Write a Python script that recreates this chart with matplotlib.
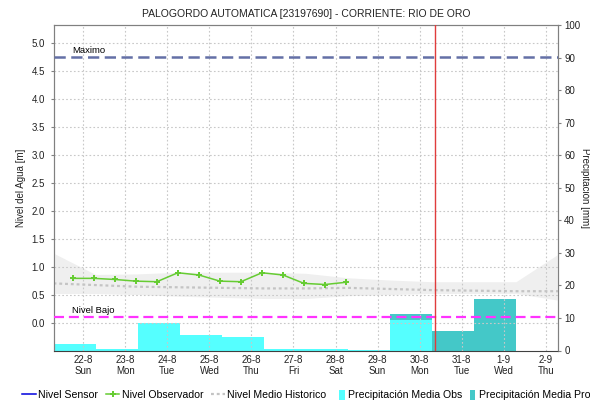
import datetime as dt

import matplotlib
matplotlib.use("Agg")
import matplotlib.pyplot as plt
import matplotlib.dates as mdates
from matplotlib.lines import Line2D
from matplotlib.patches import Patch

plt.rcParams['font.family'] = ['Liberation Sans', 'DejaVu Sans']

TITLE = "PALOGORDO AUTOMATICA [23197690] - CORRIENTE: RIO DE ORO"

# x axis ticks, one per day at midnight
tick_dates = ["2021-08-22", "2021-08-23", "2021-08-24", "2021-08-25", "2021-08-26", "2021-08-27",
              "2021-08-28", "2021-08-29", "2021-08-30", "2021-08-31", "2021-09-01", "2021-09-02"]
tick_days = ["22-8", "23-8", "24-8", "25-8", "26-8", "27-8", "28-8", "29-8", "30-8", "31-8", "1-9", "2-9"]
tick_weekdays = ["Sun", "Mon", "Tue", "Wed", "Thu", "Fri", "Sat", "Sun", "Mon", "Tue", "Wed", "Thu"]

# observer readings (06:00 and 18:00)
obs_times = ["2021-08-21 18:00", "2021-08-22 06:00", "2021-08-22 18:00", "2021-08-23 06:00",
             "2021-08-23 18:00", "2021-08-24 06:00", "2021-08-24 18:00", "2021-08-25 06:00",
             "2021-08-25 18:00", "2021-08-26 06:00", "2021-08-26 18:00", "2021-08-27 06:00",
             "2021-08-27 18:00", "2021-08-28 06:00"]
obs_level = [0.79, 0.79, 0.77, 0.74, 0.73, 0.89, 0.85, 0.74, 0.73, 0.89, 0.85, 0.70, 0.68, 0.72]

# historic level per day (07:00)
hist_times = ["2021-08-21 07:00", "2021-08-22 07:00", "2021-08-23 07:00", "2021-08-24 07:00",
              "2021-08-25 07:00", "2021-08-26 07:00", "2021-08-27 07:00", "2021-08-28 07:00",
              "2021-08-29 07:00", "2021-08-30 07:00", "2021-08-31 07:00", "2021-09-01 07:00",
              "2021-09-02 07:00"]
hist_mean = [0.70, 0.67, 0.64, 0.63, 0.62, 0.61, 0.61, 0.62, 0.60, 0.58, 0.57, 0.56, 0.56]
hist_low = [0.52, 0.52, 0.50, 0.47, 0.45, 0.43, 0.43, 0.48, 0.50, 0.52, 0.52, 0.52, 0.40]
hist_high = [1.24, 0.86, 0.87, 0.90, 0.90, 0.90, 0.88, 0.80, 0.76, 0.73, 0.73, 0.73, 1.22]

# daily precipitation, 07:00 to 07:00
precip_obs_start = ["2021-08-21 07:00", "2021-08-22 07:00", "2021-08-23 07:00", "2021-08-24 07:00",
                    "2021-08-25 07:00", "2021-08-26 07:00", "2021-08-27 07:00", "2021-08-28 07:00",
                    "2021-08-29 07:00"]
precip_obs = [1.9, 0.6, 8.6, 4.9, 4.3, 0.6, 0.5, 0.3, 9.4]
precip_pro_start = ["2021-08-29 07:00", "2021-08-30 07:00", "2021-08-31 07:00", "2021-09-01 07:00"]
precip_pro = [11.2, 6.1, 15.7, 0.0]

nivel_maximo = 4.75
nivel_bajo = 0.1
hora_actual = "2021-08-30 09:00"
x_inicio = "2021-08-21 07:00"
x_fin = "2021-09-02 07:00"

C_OBS = '#55FFFF'
C_PRO = '#44C8C8'
C_OBSERVADOR = '#66CC33'
C_HIST = '#C4C4C4'


def to_num(values, fmt="%Y-%m-%d %H:%M"):
    return [mdates.date2num(dt.datetime.strptime(v, fmt)) for v in values]


fig = plt.figure(figsize=(5.9, 4.03), dpi=100)
ax = fig.add_axes([53.5 / 590, 52.5 / 403, 504.5 / 590, 325.5 / 403])
ax2 = ax.twinx()
ax.set_zorder(ax2.get_zorder() + 1)
ax.patch.set_visible(False)

# precipitation bars on the right axis
ax2.bar(to_num(precip_pro_start), precip_pro, width=1.0, align='edge', color=C_PRO, linewidth=0)
ax2.bar(to_num(precip_obs_start), precip_obs, width=1.0, align='edge', color=C_OBS, linewidth=0)

# water level on the left axis
ht = to_num(hist_times)
ax.fill_between(ht, hist_low, hist_high, color='#EFEFEF', linewidth=0, zorder=1)
ax.plot(ht, hist_mean, color=C_HIST, linestyle=(0, (1.3, 1.3)), linewidth=1.6, zorder=2)
ax.plot(to_num(obs_times), obs_level, color=C_OBSERVADOR, linewidth=1.1, marker='P',
        markersize=4.5, markeredgewidth=0, zorder=4)

ax.axhline(nivel_maximo, color='#6470A6', linestyle=(0, (4.5, 2.2)), linewidth=1.8, zorder=3)
ax.axhline(nivel_bajo, color='#FF33FF', linestyle=(0, (4.5, 2.2)), linewidth=1.6, zorder=3)
ax.axvline(to_num([hora_actual])[0], color='#E03C3C', linewidth=1.0, zorder=5)

x_lab = to_num(["2021-08-21 17:30"])[0]
ax.text(x_lab, nivel_maximo + 0.04, "Maximo", fontsize=6.8, va='bottom', ha='left')
ax.text(x_lab, nivel_bajo + 0.04, "Nivel Bajo", fontsize=6.8, va='bottom', ha='left')

ax.set_xlim(to_num([x_inicio, x_fin]))
ax.set_ylim(-0.5, 5.32)
ax2.set_ylim(0, 100)

ax.set_xticks(to_num(tick_dates, "%Y-%m-%d"))
ax.set_xticklabels([d + "\n" + w for d, w in zip(tick_days, tick_weekdays)])
ax.set_yticks([i * 0.5 for i in range(11)])
ax.set_yticklabels(["%.1f" % (i * 0.5) for i in range(11)])
ax2.set_yticks(range(0, 101, 10))

ax.grid(True, color='#C8C8C8', linestyle=(0, (1.5, 2)), linewidth=0.8)
ax.tick_params(axis='both', labelsize=7, colors='#808080', labelcolor='#222222', length=2.5, width=0.8)
ax2.tick_params(axis='y', labelsize=7, colors='#808080', labelcolor='#222222', length=2.5, width=0.8, pad=2)
ax.tick_params(axis='x', length=0, pad=3)

for a in (ax, ax2):
    for s in a.spines.values():
        s.set_color('#808080')
        s.set_linewidth(0.8)
ax2.spines['bottom'].set_visible(False)
ax.spines['bottom'].set_color('#404040')
ax.spines['bottom'].set_linestyle((0, (1, 1)))

ax.set_ylabel("Nivel del Agua [m]", fontsize=7, color='#222222', labelpad=4)
ax2.set_ylabel("Precipitación [mm]", fontsize=7, color='#222222', rotation=270, labelpad=7)
ax.set_title(TITLE, fontsize=7.5, color='#222222', pad=6)

# legend: lines first, then the narrow precipitation swatches
line_handles = [
    Line2D([], [], color='#0000DD', linewidth=1.1),
    Line2D([], [], color=C_OBSERVADOR, linewidth=1.1, marker='P', markersize=4.5, markeredgewidth=0),
    Line2D([], [], color=C_HIST, linestyle=(0, (1.3, 1.3)), linewidth=1.6),
]
line_labels = ["Nivel Sensor", "Nivel Observador", "Nivel Medio Historico"]
fig.legend(line_handles, line_labels, loc='center left', bbox_to_anchor=(22 / 590, 1 - 395 / 403),
           ncol=3, frameon=False, fontsize=7.6, borderpad=0, borderaxespad=0,
           handlelength=1.3, handletextpad=0.25, columnspacing=0.7)

bar_handles = [Patch(facecolor=C_OBS, linewidth=0), Patch(facecolor=C_PRO, linewidth=0)]
bar_labels = ["Precipitación Media Obs", "Precipitación Media Pro"]
fig.legend(bar_handles, bar_labels, loc='center left', bbox_to_anchor=(339 / 590, 1 - 395 / 403),
           ncol=2, frameon=False, fontsize=7.6, borderpad=0, borderaxespad=0,
           handlelength=0.55, handleheight=1.2, handletextpad=0.3, columnspacing=0.7)

fig.savefig("out.png", dpi=100)
